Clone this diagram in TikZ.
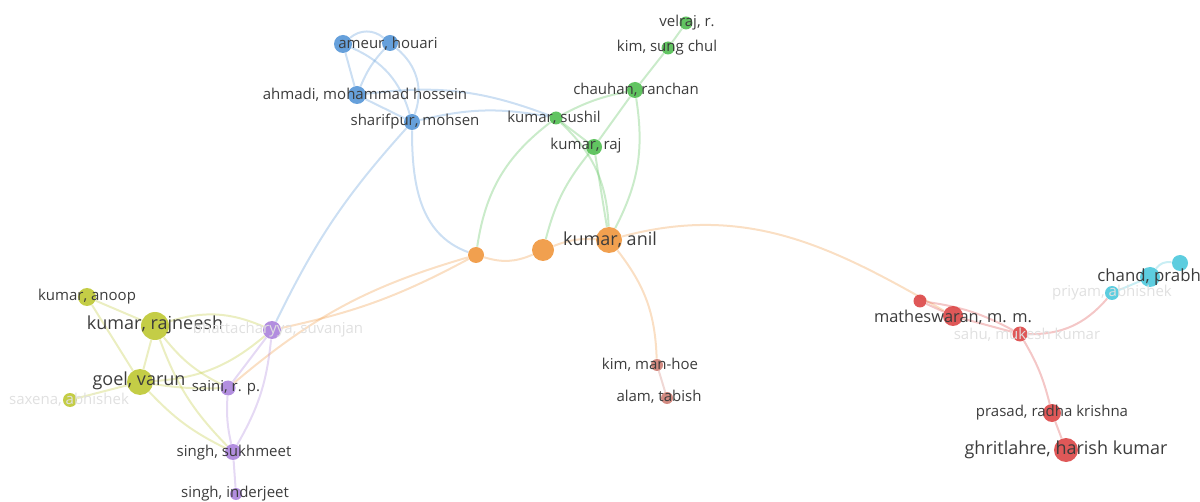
\documentclass[tikz,border=0pt]{standalone}
\usepackage{fontspec}
\setmainfont{Open Sans}
\usetikzlibrary{backgrounds}

\definecolor{cblue}{RGB}{85,150,215}
\definecolor{cgreen}{RGB}{80,190,80}
\definecolor{corange}{RGB}{240,150,60}
\definecolor{cyellow}{RGB}{190,200,50}
\definecolor{cpurple}{RGB}{170,130,220}
\definecolor{cbrown}{RGB}{205,125,115}
\definecolor{cred}{RGB}{220,70,70}
\definecolor{ccyan}{RGB}{75,200,220}
\definecolor{ctext}{RGB}{60,60,60}

\tikzset{
  dot/.style={circle, inner sep=0pt, fill=#1, fill opacity=0.9},
  lbl/.style={text=ctext, font=\fontsize{7.5}{9}\selectfont, inner sep=0pt},
  biglbl/.style={text=ctext, font=\fontsize{9}{11}\selectfont, inner sep=0pt},
  faint/.style={text=black!12, font=\fontsize{7.5}{9}\selectfont, inner sep=0pt},
  link/.style={line width=1pt, draw=#1, draw opacity=0.3},
}

\begin{document}
\begin{tikzpicture}[x=0.5pt,y=-0.5pt]
\useasboundingbox (0,0) rectangle (1200,502);
\clip (0,0) rectangle (1200,502);

% blue group
\node at (343,44) [dot=cblue, minimum size=9pt] (ameura) {};
\node at (390,43) [dot=cblue, minimum size=8pt] (ameurb) {};
\node at (357,95) [dot=cblue, minimum size=9pt] (ahmadi) {};
\node at (412,122) [dot=cblue, minimum size=8pt] (sharifpur) {};

% green group
\node at (686,23) [dot=cgreen, minimum size=6.5pt] (velraj) {};
\node at (668,48) [dot=cgreen, minimum size=6.5pt] (kimsc) {};
\node at (635,90) [dot=cgreen, minimum size=8pt] (chauhan) {};
\node at (556,118) [dot=cgreen, minimum size=6.5pt] (sushil) {};
\node at (594,147) [dot=cgreen, minimum size=8pt] (raj) {};

% orange group
\node at (476,255) [dot=corange, minimum size=8pt] (orangea) {};
\node at (543,250) [dot=corange, minimum size=11pt] (orangeb) {};
\node at (609,240) [dot=corange, minimum size=13pt] (anil) {};

% yellow group
\node at (87,297) [dot=cyellow, minimum size=9pt] (anoop) {};
\node at (155,326) [dot=cyellow, minimum size=14pt] (rajneesh) {};
\node at (140,382) [dot=cyellow, minimum size=13pt] (goel) {};
\node at (70,400) [dot=cyellow, minimum size=7pt] (saxena) {};

% purple group
\node at (272,330) [dot=cpurple, minimum size=9pt] (bhatta) {};
\node at (228,388) [dot=cpurple, minimum size=7.5pt] (saini) {};
\node at (233,452) [dot=cpurple, minimum size=8pt] (sukhmeet) {};
\node at (236,494) [dot=cpurple, minimum size=6pt] (inderjeet) {};

% brown pair
\node at (657,365) [dot=cbrown, minimum size=6pt] (kimmh) {};
\node at (667,398) [dot=cbrown, minimum size=6pt] (alam) {};

% red group
\node at (920,301) [dot=cred, minimum size=6.5pt] (reda) {};
\node at (953,316) [dot=cred, minimum size=10pt] (mathes) {};
\node at (1020,334) [dot=cred, minimum size=7.5pt] (sahu) {};
\node at (1052,413) [dot=cred, minimum size=9pt] (prasad) {};
\node at (1066,450) [dot=cred, minimum size=12pt] (ghrit) {};

% cyan group
\node at (1112,293) [dot=ccyan, minimum size=7pt] (priyam) {};
\node at (1150,277) [dot=ccyan, minimum size=10pt] (chand) {};
\node at (1180,263) [dot=ccyan, minimum size=8pt] (cyanc) {};

\begin{pgfonlayer}{background}
% links
\draw[link=cblue] (ameura) to[bend left=40] (ameurb);
\draw[link=cblue] (ameura) -- (ahmadi);
\draw[link=cblue] (ameurb) to[bend right=10] (ahmadi);
\draw[link=cblue] (ameura) to[bend left=25] (sharifpur);
\draw[link=cblue] (ameurb) to[bend left=35] (sharifpur);
\draw[link=cblue] (ahmadi) -- (sharifpur);
\draw[link=cblue] (sharifpur) to[bend left=12] (sushil);
\draw[link=cblue] (ahmadi) to[bend left=14] (sushil);
\draw[link=cblue] (sharifpur) to[out=-90,in=160] (orangea);
\draw[link=cblue] (sharifpur) to[bend right=8] (bhatta);

\draw[link=cgreen] (velraj) -- (kimsc);
\draw[link=cgreen] (kimsc) -- (chauhan);
\draw[link=cgreen] (chauhan) -- (raj);
\draw[link=cgreen] (chauhan) to[bend right=8] (sushil);
\draw[link=cgreen] (sushil) -- (raj);
\draw[link=cgreen] (chauhan) to[bend left=18] (anil);
\draw[link=cgreen] (raj) -- (anil);
\draw[link=cgreen] (sushil) to[bend left=22] (anil);
\draw[link=cgreen] (sushil) to[bend right=22] (orangea);
\draw[link=cgreen] (raj) to[bend right=12] (orangeb);

\draw[link=corange] (orangea) to[bend right=20] (orangeb);
\draw[link=corange] (orangeb) to[bend left=12] (anil);
\draw[link=corange] (anil) to[out=15,in=150] (mathes);
\draw[link=corange] (anil) to[bend left=18] (kimmh);
\draw[link=corange] (orangea) to[bend left=8] (bhatta);
\draw[link=corange] (orangea) to[bend right=12] (saini);

\draw[link=cyellow] (anoop) -- (rajneesh);
\draw[link=cyellow] (anoop) -- (goel);
\draw[link=cyellow] (rajneesh) -- (goel);
\draw[link=cyellow] (saxena) -- (goel);
\draw[link=cyellow] (rajneesh) to[bend left=20] (bhatta);
\draw[link=cyellow] (goel) to[bend right=18] (bhatta);
\draw[link=cyellow] (rajneesh) to[bend right=12] (saini);
\draw[link=cyellow] (goel) to[bend right=5] (saini);
\draw[link=cyellow] (goel) to[bend right=10] (sukhmeet);
\draw[link=cyellow] (rajneesh) to[bend right=12] (sukhmeet);

\draw[link=cpurple] (bhatta) -- (saini);
\draw[link=cpurple] (bhatta) to[bend left=12] (sukhmeet);
\draw[link=cpurple] (saini) to[bend right=8] (sukhmeet);
\draw[link=cpurple] (sukhmeet) -- (inderjeet);

\draw[link=cbrown] (kimmh) -- (alam);

\draw[link=cred] (reda) -- (mathes);
\draw[link=cred] (mathes) -- (sahu);
\draw[link=cred] (reda) to[bend left=10] (sahu);
\draw[link=cred] (sahu) to[bend left=8] (prasad);
\draw[link=cred] (prasad) -- (ghrit);
\draw[link=cred] (sahu) to[bend right=25] (priyam);
\draw[link=ccyan] (priyam) -- (chand);
\draw[link=ccyan] (chand) to[bend left=30] (cyanc);
\end{pgfonlayer}

% labels
\node at (388,44) [lbl] (ameur-t) {ameur, houari};
\node at (365,95) [lbl] (ahmadi-t) {ahmadi, mohammad hossein};
\node at (415,122) [lbl] (sharifpur-t) {sharifpur, mohsen};
\node at (687,23) [lbl] (velraj-t) {velraj, r.};
\node at (667,48) [lbl] (kimsc-t) {kim, sung chul};
\node at (636,90) [lbl] (chauhan-t) {chauhan, ranchan};
\node at (554,118) [lbl] (sushil-t) {kumar, sushil};
\node at (586,146) [lbl] (raj-t) {kumar, raj};
\node at (610,240) [biglbl] (anil-t) {kumar, anil};
\node at (87,297) [lbl] (anoop-t) {kumar, anoop};
\node at (155,325) [biglbl] (rajneesh-t) {kumar, rajneesh};
\node at (139,381) [biglbl] (goel-t) {goel, varun};
\node at (69,400) [faint] (saxena-t) {saxena, abhishek};
\node at (278,330) [faint] (bhatta-t) {bhattacharyya, suvanjan};
\node at (226,388) [lbl] (saini-t) {saini, r. p.};
\node at (234,453) [lbl] (sukhmeet-t) {singh, sukhmeet};
\node at (235,494) [lbl] (inderjeet-t) {singh, inderjeet};
\node at (650,365) [lbl] (kimmh-t) {kim, man-hoe};
\node at (659,397) [lbl] (alam-t) {alam, tabish};
\node at (953,317) [lbl, font=\fontsize{8.2}{10}\selectfont] (mathes-t) {matheswaran, m. m.};
\node at (1027,335) [faint] (sahu-t) {sahu, mukesh kumar};
\node at (1052,413) [lbl] (prasad-t) {prasad, radha krishna};
\node at (1066,450) [biglbl] (ghrit-t) {ghritlahre, harish kumar};
\node at (1112,293) [faint] (priyam-t) {priyam, abhishek};
\node at (1097,277) [lbl, font=\fontsize{8.4}{10}\selectfont, anchor=west] (chand-t) {chand, prabhakar};
\end{tikzpicture}
\end{document}
